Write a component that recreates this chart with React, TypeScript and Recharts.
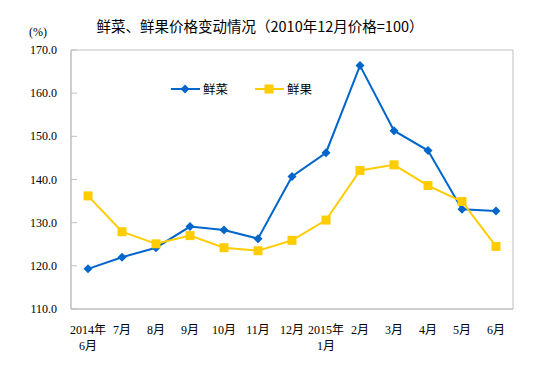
import React from "react";
import { CartesianGrid, Line, LineChart, XAxis, YAxis } from "recharts";

const months = [
  "2014年\n6月", "7月", "8月", "9月", "10月", "11月", "12月",
  "2015年\n1月", "2月", "3月", "4月", "5月", "6月",
];
const vegetables = [119.3, 122.0, 124.2, 129.1, 128.3, 126.3, 140.7, 146.2, 166.4, 151.3, 146.7, 133.1, 132.7];
const fruits = [136.2, 127.9, 125.1, 127.0, 124.2, 123.5, 125.9, 130.6, 142.1, 143.4, 138.6, 134.9, 124.5];
const yTicks = [110, 120, 130, 140, 150, 160, 170];

const BLUE = "#0066CC";
const YELLOW = "#FFCC00";
const BORDER = "#BFBFBF";
const SERIF = '"Liberation Serif", "Noto Sans CJK SC", serif';
const CJK = '"Noto Sans CJK SC", sans-serif';

const data = months.map((m, i) => ({ month: m, veg: vegetables[i], fruit: fruits[i] }));

function Diamond(props: any) {
  const { cx, cy } = props;
  if (cx == null || cy == null) return null;
  const r = 4.5;
  return <path d={`M${cx},${cy - r}L${cx + r},${cy}L${cx},${cy + r}L${cx - r},${cy}Z`} fill={BLUE} />;
}

function Square(props: any) {
  const { cx, cy } = props;
  if (cx == null || cy == null) return null;
  const s = 4.5;
  return <rect x={cx - s} y={cy - s} width={s * 2} height={s * 2} fill={YELLOW} />;
}

function YTick(props: any) {
  const { x, y, payload } = props;
  return (
    <g>
      <line x1={x} x2={x + 6} y1={y} y2={y} stroke={BORDER} />
      <text x={x - 14} y={y + 4} textAnchor="end" fontSize={12} fontFamily={SERIF} fill="#000">
        {payload.value.toFixed(1)}
      </text>
    </g>
  );
}

function XTick(props: any) {
  const { x, y, payload } = props;
  const lines = String(payload.value).split("\n");
  return (
    <text x={x} y={y} textAnchor="middle" fontSize={12} fontFamily={SERIF} fill="#000">
      {lines.map((l, i) => (
        <tspan key={i} x={x} dy={i === 0 ? 17 : 16}>
          {l}
        </tspan>
      ))}
    </text>
  );
}

function LegendBox() {
  return (
    <svg width={160} height={20} style={{ display: "block" }}>
      <line x1={0} x2={29} y1={10} y2={10} stroke={BLUE} strokeWidth={2} />
      <Diamond cx={14} cy={10} />
      <text x={32} y={14.5} fontSize={12.5} fontFamily={CJK} fill="#000">鲜菜</text>
      <line x1={84} x2={113} y1={10} y2={10} stroke={YELLOW} strokeWidth={2} />
      <Square cx={98} cy={10} />
      <text x={116} y={14.5} fontSize={12.5} fontFamily={CJK} fill="#000">鲜果</text>
    </svg>
  );
}

export default function App() {
  return (
    <div style={{ position: "absolute", left: 0, top: 0, width: 551, height: 378, background: "#fff" }}>
      <div
        style={{
          position: "absolute", left: 0, width: 520, top: 15, textAlign: "center",
          fontFamily: CJK, fontSize: 14.5, color: "#000", zIndex: 2,
        }}
      >
        鲜菜、鲜果价格变动情况（2010年12月价格=100）
      </div>
      <div style={{ position: "absolute", left: 29, top: 25, fontFamily: SERIF, fontSize: 12, zIndex: 2 }}>
        (%)
      </div>
      <div style={{ position: "absolute", left: 171, top: 79, zIndex: 2 }}>
        <LegendBox />
      </div>
      <LineChart width={551} height={378} data={data} margin={{ top: 50, right: 38, bottom: 29, left: 0 }}>
        <CartesianGrid
          stroke={BORDER}
          horizontalCoordinatesGenerator={({ offset }: any) => [offset.top, offset.top + offset.height]}
          verticalCoordinatesGenerator={({ offset }: any) => [offset.left, offset.left + offset.width]}
        />
        <XAxis
          dataKey="month"
          interval={0}
          padding={{ left: 17, right: 17 }}
          axisLine={{ stroke: BORDER }}
          tickLine={false}
          tick={<XTick />}
          height={40}
        />
        <YAxis
          domain={[110, 170]}
          ticks={yTicks}
          width={71}
          axisLine={{ stroke: BORDER }}
          tickLine={false}
          tickSize={0}
          tickMargin={0}
          tick={<YTick />}
        />
        <Line
          dataKey="veg"
          name="鲜菜"
          stroke={BLUE}
          strokeWidth={2}
          dot={<Diamond />}
          activeDot={false}
          isAnimationActive={false}
        />
        <Line
          dataKey="fruit"
          name="鲜果"
          stroke={YELLOW}
          strokeWidth={2}
          dot={<Square />}
          activeDot={false}
          isAnimationActive={false}
        />
      </LineChart>
    </div>
  );
}
